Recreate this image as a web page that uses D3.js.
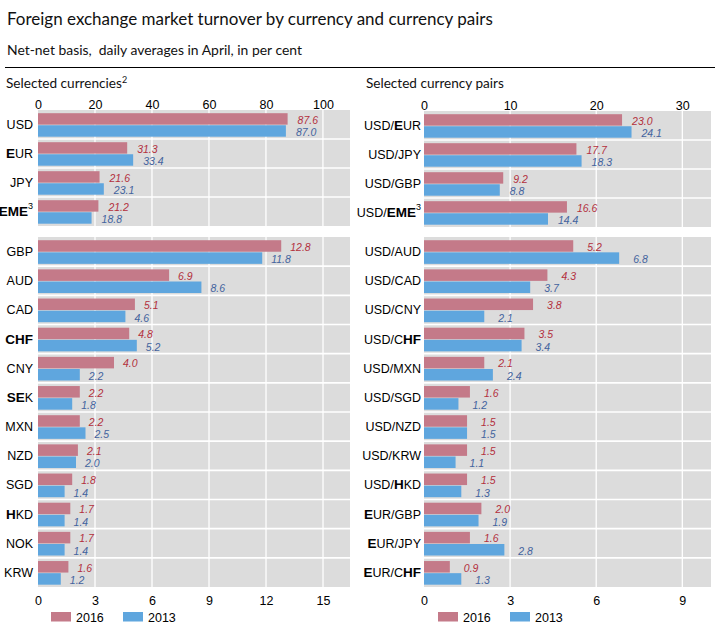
<!DOCTYPE html>
<html><head><meta charset="utf-8">
<script src="https://cdn.jsdelivr.net/npm/d3@7"></script>
<style>body{margin:0;background:#fff}svg{display:block}</style>
</head><body><svg id="c" width="719" height="633"></svg>
<script>
// ---------- data ----------
const currMajor = ["USD","EUR","JPY","EME"];
const currMajor2016 = [87.6,31.3,21.6,21.2];
const currMajor2013 = [87.0,33.4,23.1,18.8];
const currOther = ["GBP","AUD","CAD","CHF","CNY","SEK","MXN","NZD","SGD","HKD","NOK","KRW"];
const currOther2016 = [12.8,6.9,5.1,4.8,4.0,2.2,2.2,2.1,1.8,1.7,1.7,1.6];
const currOther2013 = [11.8,8.6,4.6,5.2,2.2,1.8,2.5,2.0,1.4,1.4,1.4,1.2];
const pairMajor = ["USD/EUR","USD/JPY","USD/GBP","USD/EME"];
const pairMajor2016 = [23.0,17.7,9.2,16.6];
const pairMajor2013 = [24.1,18.3,8.8,14.4];
const pairOther = ["USD/AUD","USD/CAD","USD/CNY","USD/CHF","USD/MXN","USD/SGD","USD/NZD","USD/KRW","USD/HKD","EUR/GBP","EUR/JPY","EUR/CHF"];
const pairOther2016 = [5.2,4.3,3.8,3.5,2.1,1.6,1.5,1.5,1.5,2.0,1.6,0.9];
const pairOther2013 = [6.8,3.7,2.1,3.4,2.4,1.2,1.5,1.1,1.3,1.9,2.8,1.3];
const ticksCurrTop = [0,20,40,60,80,100];
const ticksCurrBottom = [0,3,6,9,12,15];
const ticksPairTop = [0,10,20,30];
const ticksPairBottom = [0,3,6,9];
const seriesNames = ["2016","2013"];
const superscripts = {"EME":"3","USD/EME":"3"};
const boldChars = {"EUR":[0],"EME":[0,1,2],"CHF":[0,1,2],"SEK":[0,1],"HKD":[0],
  "USD/EUR":[4],"USD/EME":[4,5,6],"USD/CHF":[5,6],"USD/HKD":[4],
  "EUR/GBP":[0],"EUR/JPY":[0],"EUR/CHF":[0,5,6]};

// ---------- style ----------
const C16="#c47a89", C13="#5fa6de", BG="#dcdcdc";
const L16="#b3303c", L13="#43639e";
const AX="'Liberation Sans',Arial,sans-serif";
const TT="Lato,'Open Sans',sans-serif";

const svg=d3.select("#c");
function fitText(x,y,txt,size,target){
  const t=svg.append("text").attr("x",x).attr("y",y).attr("font-family",TT).attr("font-size",size)
    .attr("fill","#111").attr("xml:space","preserve").text(txt);
  const len=t.node().getComputedTextLength();
  if(len>0) t.attr("font-size",size*target/len);
  return t;
}
fitText(7,25,"Foreign exchange market turnover by currency and currency pairs",18,486);
fitText(7,55,"Net-net basis,  daily averages in April, in per cent",14,295);
svg.append("line").attr("x1",5).attr("x2",715).attr("y1",67.5).attr("y2",67.5).attr("stroke","#000").attr("stroke-width",1.2);

const st1=fitText(6,88,"Selected currencies",14,116);
st1.append("tspan").attr("font-size",9).attr("dy",-5).text("2");
fitText(366,88,"Selected currency pairs",14,138);

function label(g,x,y,name){
  const t=g.append("text").attr("x",x).attr("y",y).attr("text-anchor","end").attr("dy","0.36em")
    .attr("font-family",AX).attr("font-size",12.5).attr("fill","#000");
  const b=boldChars[name]||[];
  name.split("").forEach((ch,i)=>{
    t.append("tspan").attr("font-weight",b.includes(i)?"bold":"normal").attr("font-size",b.includes(i)?13.5:12.5).text(ch);
  });
  if(superscripts[name]) t.append("tspan").attr("font-size",9).attr("dy",-7).text(superscripts[name]);
}

function panel(opt){
  const {x0,x1,y0,y1,dmax,cats,v16,v13,ticks,axisPos,labelX,off}=opt;
  const x=d3.scaleLinear().domain([0,dmax]).range([x0,x1]);
  const y=d3.scaleBand().domain(cats).range([y0,y1]).padding(0);
  const g=svg.append("g");
  g.append("rect").attr("x",x0).attr("y",y0).attr("width",x1-x0).attr("height",y1-y0).attr("fill",BG);
  g.selectAll(".vg").data(ticks.slice(1)).join("line").attr("x1",d=>x(d)).attr("x2",d=>x(d))
    .attr("y1",y0).attr("y2",y1).attr("stroke","#fff").attr("stroke-width",1.3);
  g.selectAll(".hg").data(cats.slice(1)).join("line").attr("x1",x0).attr("x2",x1)
    .attr("y1",d=>y(d)).attr("y2",d=>y(d)).attr("stroke","#fff").attr("stroke-width",1.6);
  const bw=y.bandwidth();
  const bh=bw*0.395, top=bw*0.11;
  g.selectAll(".b16").data(cats).join("rect").attr("x",x0).attr("y",d=>y(d)+top)
    .attr("width",(d,i)=>x(v16[i])-x0).attr("height",bh).attr("fill",C16);
  g.selectAll(".b13").data(cats).join("rect").attr("x",x0).attr("y",d=>y(d)+top+bh+0.6)
    .attr("width",(d,i)=>x(v13[i])-x0).attr("height",bh).attr("fill",C13);
  g.selectAll(".t16").data(cats).join("text").attr("x",(d,i)=>x(v16[i])+off).attr("y",d=>y(d)+top+bh/2+1)
    .attr("dy","0.36em").attr("font-family",AX).attr("font-style","italic").attr("font-size",10.5).attr("fill",L16)
    .text((d,i)=>v16[i].toFixed(1));
  g.selectAll(".t13").data(cats).join("text").attr("x",(d,i)=>x(v13[i])+off).attr("y",d=>y(d)+top+bh*1.5+2)
    .attr("dy","0.36em").attr("font-family",AX).attr("font-style","italic").attr("font-size",10.5).attr("fill",L13)
    .text((d,i)=>v13[i].toFixed(1));
  cats.forEach(c=>label(g,labelX,y(c)+bw/2,c));
  const ax = axisPos==="top" ? d3.axisTop(x) : d3.axisBottom(x);
  ax.tickValues(ticks).tickSize(0).tickPadding(0).tickFormat(d3.format("d"));
  const ag=g.append("g").attr("transform",`translate(0,${axisPos==="top"? y0-1.5 : y1+9})`).call(ax);
  ag.select(".domain").remove();
  ag.selectAll("text").attr("font-family",AX).attr("font-size",12.5).attr("fill","#000")
    .attr("dy", axisPos==="top" ? "0em" : "0.71em");
}

panel({x0:38,x1:350,y0:110,y1:226,dmax:109.5,cats:currMajor,v16:currMajor2016,v13:currMajor2013,ticks:ticksCurrTop,axisPos:"top",labelX:33,off:10});
panel({x0:38,x1:350,y0:237,y1:587,dmax:16.42,cats:currOther,v16:currOther2016,v13:currOther2013,ticks:ticksCurrBottom,axisPos:"bottom",labelX:33,off:9});
panel({x0:424,x1:711,y0:111,y1:227,dmax:33.33,cats:pairMajor,v16:pairMajor2016,v13:pairMajor2013,ticks:ticksPairTop,axisPos:"top",labelX:421,off:10});
panel({x0:424,x1:711,y0:237,y1:587,dmax:10,cats:pairOther,v16:pairOther2016,v13:pairOther2013,ticks:ticksPairBottom,axisPos:"bottom",labelX:421,off:14});

function legend(x){
  const g=svg.append("g");
  [C16,C13].forEach((c,i)=>{
    const lx=x+i*72;
    g.append("rect").attr("x",lx).attr("y",612).attr("width",20).attr("height",9.5).attr("fill",c);
    g.append("text").attr("x",lx+25).attr("y",617).attr("dy","0.36em").attr("font-family",AX).attr("font-size",12.5).attr("fill","#000").text(seriesNames[i]);
  });
}
legend(51);
legend(438);
</script></body></html>
